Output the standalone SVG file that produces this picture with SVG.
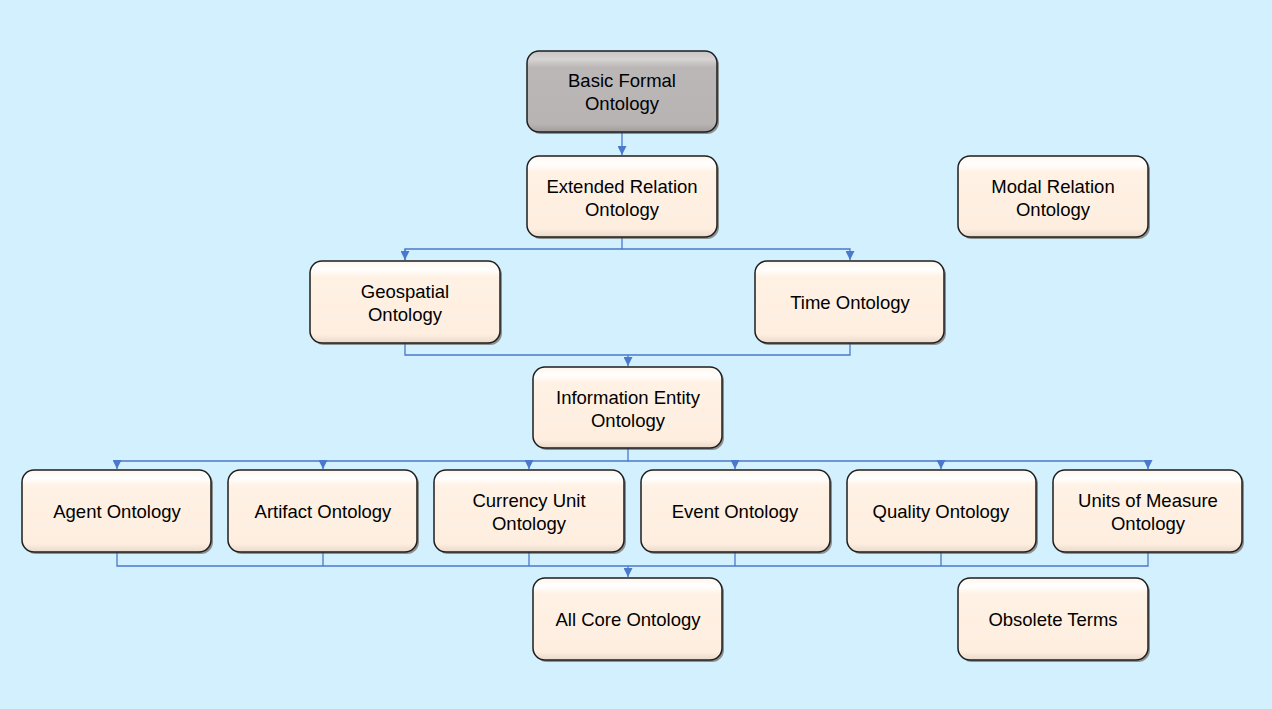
<svg xmlns="http://www.w3.org/2000/svg" width="1272" height="709" viewBox="0 0 1272 709">
<style>
.n{fill:url(#g);stroke:#1e1e1e;stroke-width:1.5}
.gr{fill:url(#gg);stroke:#1e1e1e;stroke-width:1.5}
.sh{fill:#5e5045;opacity:0.6}
.t{font-family:"Liberation Sans",Arial,sans-serif;font-size:18.5px;fill:#000;text-anchor:middle}
.c{fill:none;stroke:#4a78cc;stroke-width:1.3}
</style>
<defs>
<linearGradient id="g" x1="0" y1="0" x2="0" y2="1">
<stop offset="0" stop-color="#fff6ec"/>
<stop offset="0.1" stop-color="#ffffff"/>
<stop offset="0.2" stop-color="#fff1e3"/>
<stop offset="0.9" stop-color="#fdeee0"/>
<stop offset="1" stop-color="#e9d9ca"/>
</linearGradient>
<linearGradient id="gg" x1="0" y1="0" x2="0" y2="1">
<stop offset="0" stop-color="#c8c4c4"/>
<stop offset="0.1" stop-color="#d8d4d4"/>
<stop offset="0.2" stop-color="#bbb7b7"/>
<stop offset="0.9" stop-color="#b8b4b4"/>
<stop offset="1" stop-color="#a09c9c"/>
</linearGradient>
<marker id="a" viewBox="0 0 10 10" refX="10" refY="5" markerWidth="9" markerHeight="9" markerUnits="userSpaceOnUse" orient="auto">
<path d="M0,0L10,5L0,10z" fill="#4a78cc"/>
</marker>
</defs>
<rect width="1272" height="709" fill="#d3f0fe"/>
<g id="connectors">
<path class="c" d="M622,132V155" marker-end="url(#a)"/>
<path class="c" d="M622,237V249H405V260"/>
<path class="c" d="M622,249H850V260" marker-end="url(#a)"/>
<path class="c" d="M405,249V260" marker-end="url(#a)"/>
<path class="c" d="M405,343V355H850V343"/>
<path class="c" d="M628,355V366" marker-end="url(#a)"/>
<path class="c" d="M628,448V461H117V469" marker-end="url(#a)"/>
<path class="c" d="M628,461H1148V469" marker-end="url(#a)"/>
<path class="c" d="M323,461V469" marker-end="url(#a)"/>
<path class="c" d="M529,461V469" marker-end="url(#a)"/>
<path class="c" d="M735,461V469" marker-end="url(#a)"/>
<path class="c" d="M941,461V469" marker-end="url(#a)"/>
<path class="c" d="M117,552V566H1148V552"/>
<path class="c" d="M323,552V566M529,552V566M735,552V566M941,552V566"/>
<path class="c" d="M628,566V577" marker-end="url(#a)"/>
</g>
<g id="bfo"><rect class="sh" x="529" y="53" width="190" height="81" rx="12"/><rect class="gr" x="527" y="51" width="190" height="81" rx="12"/><text class="t" x="622" y="87">Basic Formal</text><text class="t" x="622" y="110">Ontology</text></g>
<g id="ero"><rect class="sh" x="529" y="158" width="190" height="81" rx="12"/><rect class="n" x="527" y="156" width="190" height="81" rx="12"/><text class="t" x="622" y="193">Extended Relation</text><text class="t" x="622" y="216">Ontology</text></g>
<g id="modal"><rect class="sh" x="960" y="158" width="190" height="81" rx="12"/><rect class="n" x="958" y="156" width="190" height="81" rx="12"/><text class="t" x="1053" y="193">Modal Relation</text><text class="t" x="1053" y="216">Ontology</text></g>
<g id="geo"><rect class="sh" x="312" y="263" width="190" height="82" rx="12"/><rect class="n" x="310" y="261" width="190" height="82" rx="12"/><text class="t" x="405" y="298">Geospatial</text><text class="t" x="405" y="321">Ontology</text></g>
<g id="time"><rect class="sh" x="757" y="263" width="189" height="82" rx="12"/><rect class="n" x="755" y="261" width="189" height="82" rx="12"/><text class="t" x="850" y="309">Time Ontology</text></g>
<g id="ieo"><rect class="sh" x="535" y="369" width="189" height="81" rx="12"/><rect class="n" x="533" y="367" width="189" height="81" rx="12"/><text class="t" x="628" y="404">Information Entity</text><text class="t" x="628" y="427">Ontology</text></g>
<g id="agent"><rect class="sh" x="24" y="472" width="189" height="82" rx="12"/><rect class="n" x="22" y="470" width="189" height="82" rx="12"/><text class="t" x="117" y="518">Agent Ontology</text></g>
<g id="artifact"><rect class="sh" x="230" y="472" width="189" height="82" rx="12"/><rect class="n" x="228" y="470" width="189" height="82" rx="12"/><text class="t" x="323" y="518">Artifact Ontology</text></g>
<g id="currency"><rect class="sh" x="436" y="472" width="190" height="82" rx="12"/><rect class="n" x="434" y="470" width="190" height="82" rx="12"/><text class="t" x="529" y="507">Currency Unit</text><text class="t" x="529" y="530">Ontology</text></g>
<g id="event"><rect class="sh" x="643" y="472" width="189" height="82" rx="12"/><rect class="n" x="641" y="470" width="189" height="82" rx="12"/><text class="t" x="735" y="518">Event Ontology</text></g>
<g id="quality"><rect class="sh" x="849" y="472" width="189" height="82" rx="12"/><rect class="n" x="847" y="470" width="189" height="82" rx="12"/><text class="t" x="941" y="518">Quality Ontology</text></g>
<g id="units"><rect class="sh" x="1055" y="472" width="189" height="82" rx="12"/><rect class="n" x="1053" y="470" width="189" height="82" rx="12"/><text class="t" x="1148" y="507">Units of Measure</text><text class="t" x="1148" y="530">Ontology</text></g>
<g id="allcore"><rect class="sh" x="535" y="580" width="189" height="82" rx="12"/><rect class="n" x="533" y="578" width="189" height="82" rx="12"/><text class="t" x="628" y="626">All Core Ontology</text></g>
<g id="obsolete"><rect class="sh" x="960" y="580" width="190" height="82" rx="12"/><rect class="n" x="958" y="578" width="190" height="82" rx="12"/><text class="t" x="1053" y="626">Obsolete Terms</text></g>
</svg>
